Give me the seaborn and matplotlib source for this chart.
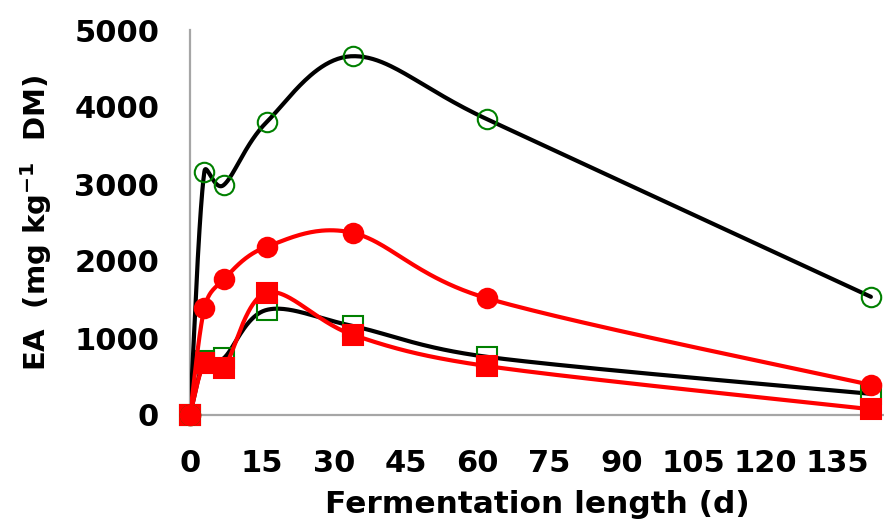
import numpy as np
import pandas as pd
import matplotlib
matplotlib.use("Agg")
import matplotlib.pyplot as plt
import seaborn as sns

days = [0, 3, 7, 16, 34, 62, 142]
green_circle = [0, 3160, 2985, 3805, 4660, 3840, 1535]
red_circle = [0, 1385, 1760, 2185, 2365, 1515, 390]
green_square = [0, 700, 735, 1365, 1155, 755, 275]
red_square = [0, 670, 605, 1590, 1040, 635, 75]

x_ticks = [0, 15, 30, 45, 60, 75, 90, 105, 120, 135]
y_ticks = [0, 1000, 2000, 3000, 4000, 5000]

sns.set_style("white")
plt.rcParams['font.family'] = ['DejaVu Sans']
plt.rcParams['text.color'] = 'black'
plt.rcParams['axes.labelcolor'] = 'black'
plt.rcParams['xtick.color'] = 'black'
plt.rcParams['ytick.color'] = 'black'

FW, FH = 884, 523
fig = plt.figure(figsize=(FW / 100, FH / 100), dpi=100)
L, B, T = 190, 415, 30
ax = fig.add_axes([L / FW, 1 - B / FH, (FW - L) / FW, (B - T) / FH])
XMAX = (FW - L) / 4.795
YMAX = 5000
ax.set_xlim(0, XMAX)
ax.set_ylim(0, YMAX)

W = FW - L
H = B - T


def smooth(xs, ys, n=50):
    P = np.column_stack([np.array(xs, float) / XMAX * W, np.array(ys, float) / YMAX * H])
    out = []
    N = len(P)
    for i in range(N - 1):
        p0 = P[i - 1] if i > 0 else P[i]
        p1 = P[i]
        p2 = P[i + 1]
        p3 = P[i + 2] if i + 2 < N else P[i + 1]
        seg_len = np.linalg.norm(p2 - p1)
        a1 = (p2 - p0) / 6.0
        a2 = (p3 - p1) / 6.0
        for a in (a1, a2):
            la = np.linalg.norm(a)
            if la > seg_len / 2 and la > 0:
                a *= (seg_len / 2) / la
        c1 = p1 + a1
        c2 = p2 - a2
        t = np.linspace(0, 1, n)[:, None]
        seg = (1 - t) ** 3 * p1 + 3 * (1 - t) ** 2 * t * c1 + 3 * (1 - t) * t ** 2 * c2 + t ** 3 * p2
        out.append(seg if i == 0 else seg[1:])
    S = np.vstack(out)
    return pd.DataFrame({"x": S[:, 0] / W * XMAX, "y": S[:, 1] / H * YMAX})


series = [
    (green_square, "black", "s", "none", "green"),
    (red_square, "red", "s", "red", "red"),
    (green_circle, "black", "o", "none", "green"),
    (red_circle, "red", "o", "red", "red"),
]

z = 3
for ys, lc, mk, fc, ec in series:
    df = smooth(days, ys)
    sns.lineplot(data=df, x="x", y="y", sort=False, estimator=None, color=lc,
                 linewidth=3, ax=ax, zorder=z)
    ax.plot(days, ys, linestyle="none", marker=mk, markersize=14,
            markerfacecolor=fc, markeredgecolor=ec, markeredgewidth=1.5,
            zorder=z + 1, clip_on=False)
    z += 2

for side in ["top", "right"]:
    ax.spines[side].set_visible(False)
for side in ["left", "bottom"]:
    ax.spines[side].set_color("#A6A6A6")
    ax.spines[side].set_linewidth(1.6)

ax.set_xticks(x_ticks)
ax.set_yticks(y_ticks)
ax.tick_params(axis="both", direction="out", length=7.2, width=1.6, color="#A6A6A6",
               labelsize=22, labelcolor="black")
ax.tick_params(axis="y", pad=15)
ax.tick_params(axis="x", pad=17)
for lab in ax.get_xticklabels() + ax.get_yticklabels():
    lab.set_fontweight("bold")

ax.set_xlabel("Fermentation length (d)", fontsize=22.5, fontweight="bold", labelpad=9)
ax.set_ylabel("EA  (mg kg$^{\\mathbf{-1}}$  DM)", fontsize=21, fontweight="bold")
ax.yaxis.set_label_coords(-(L - 18) / W, 0.5)
ax.yaxis.label.set_verticalalignment("top")
ax.grid(False)

fig.savefig("out.png", dpi=100)
